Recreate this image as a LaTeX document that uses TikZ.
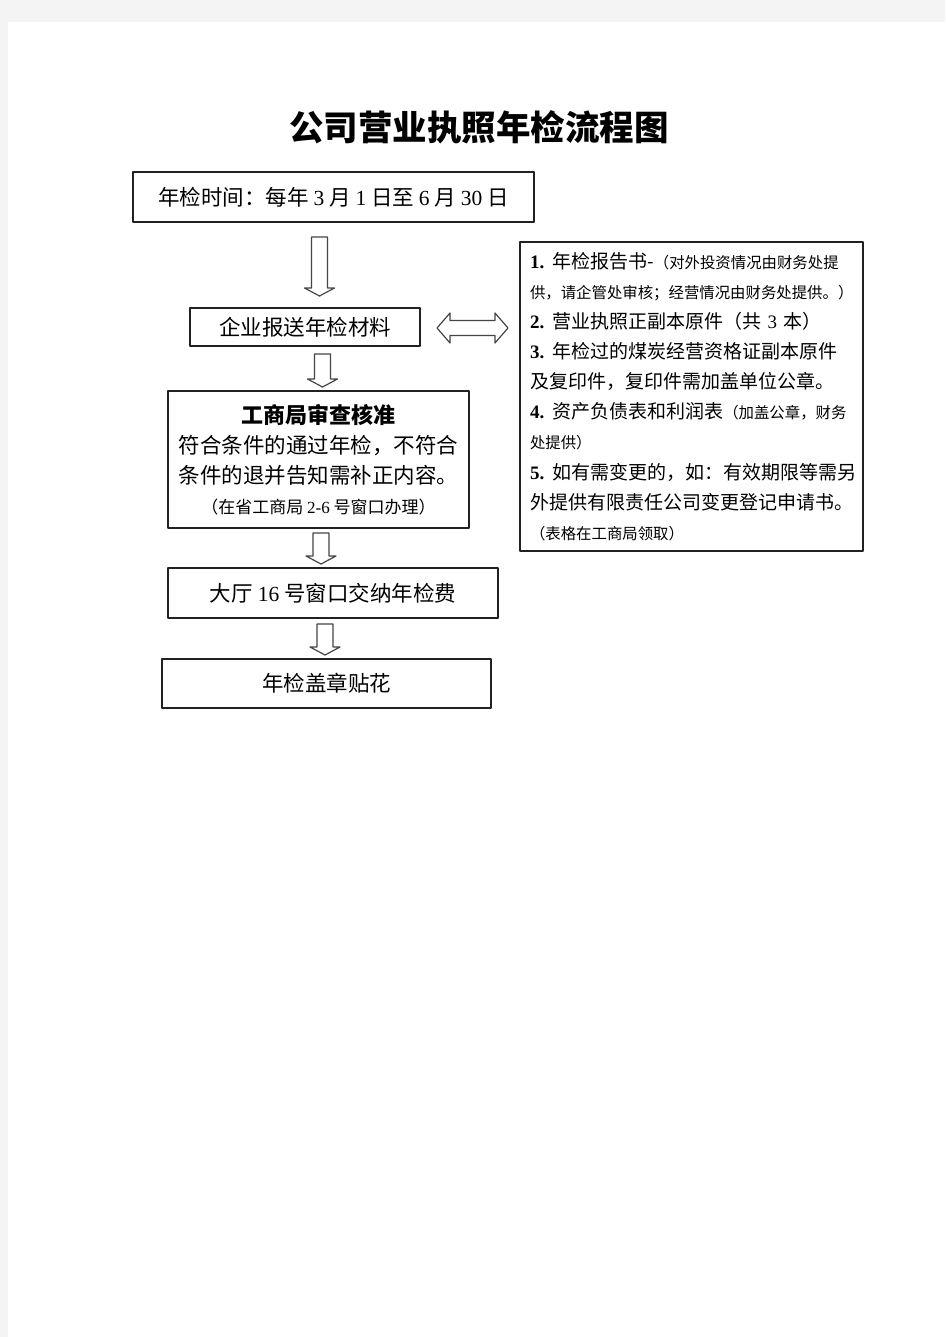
\documentclass[tikz,border=0pt]{standalone}
\usepackage{fontspec}
\setmainfont{Noto Sans CJK SC}
\newfontfamily\tnr{Liberation Serif}
\usetikzlibrary{calc}
\definecolor{wwwwww}{rgb}{0.957,0.957,0.957}
\definecolor{qqqqqq}{rgb}{0.13,0.13,0.13}
\definecolor{sqsqsq}{rgb}{0.27,0.27,0.27}
\newcommand{\notesize}{\fontsize{15.4}{30.1}\selectfont}
% hollow block arrows, from one named point to another
\newcommand{\blockdown}[2]{%
\draw[blockarrow] ($(#1)+(-8,0)$) -- ($(#1)+(8,0)$) -- ($(#2)+(8,-8)$) -- ($(#2)+(15,-8)$) -- (#2) -- ($(#2)+(-15,-8)$) -- ($(#2)+(-8,-8)$) -- cycle;}
\newcommand{\blockboth}[2]{%
\draw[blockarrow] (#1) -- ($(#1)+(13,-15)$) -- ($(#1)+(13,-7.5)$) -- ($(#2)+(-13,-7.5)$) -- ($(#2)+(-13,-15)$) -- (#2) -- ($(#2)+(-13,15)$) -- ($(#2)+(-13,7.5)$) -- ($(#1)+(13,7.5)$) -- ($(#1)+(13,15)$) -- cycle;}
\tikzset{
flowbox/.style={draw=qqqqqq,line width=1.2pt,inner sep=0pt,font=\fontsize{21.5}{30}\selectfont},
blockarrow/.style={draw=sqsqsq,line width=1.2pt,fill=white}
}
\begin{document}
\begin{tikzpicture}[line cap=round,line join=round,x=1pt,y=-1pt]
\useasboundingbox (0,0) rectangle (945,1337);
\fill[wwwwww] (0,0) rectangle (945,1337);
\fill[white] (8,22) rectangle (945,1337);
\node (title) at (479,127) {\fontsize{34.5}{40}\selectfont\bfseries 公司营业执照年检流程图};
\node[flowbox,minimum width=401pt,minimum height=50pt] (time) at (333.5,197) {年检时间：每年 {\tnr 3} 月 {\tnr 1} 日至 {\tnr 6} 月 {\tnr 30} 日};
\node[flowbox,minimum width=230pt,minimum height=38pt] (submit) at (305,327) {企业报送年检材料};
\node[flowbox,minimum width=301pt,minimum height=137pt,align=center] (check) at (318.5,459.5) {{\fontsize{22}{30}\selectfont\bfseries 工商局审查核准}\\
符合条件的通过年检，不符合\\
条件的退并告知需补正内容。\\
{\fontsize{17}{30}\selectfont （在省工商局 {\tnr 2-6} 号窗口办理）}};
\node[flowbox,minimum width=330pt,minimum height=50pt] (fee) at (333,593) {大厅 {\tnr 16} 号窗口交纳年检费};
\node[flowbox,minimum width=329pt,minimum height=49pt] (stamp) at (326.5,683.5) {年检盖章贴花};
\node[flowbox,font=\fontsize{19}{30.1}\selectfont,minimum height=309pt,text width=323pt,inner xsep=10pt,align=left] (need) at (691.5,396.5) {\textbf{\tnr 1.}\hspace{8pt}年检报告书-{\notesize （对外投资情况由财务处提}\\
{\notesize 供，请企管处审核；经营情况由财务处提供。）}\\
\textbf{\tnr 2.}\hspace{8pt}营业执照正副本原件（共 {\tnr 3} 本）\\
\textbf{\tnr 3.}\hspace{8pt}年检过的煤炭经营资格证副本原件\\
及复印件，复印件需加盖单位公章。\\
\textbf{\tnr 4.}\hspace{8pt}资产负债表和利润表{\notesize （加盖公章，财务}\\
{\notesize 处提供）}\\
\textbf{\tnr 5.}\hspace{8pt}如有需变更的，如：有效期限等需另\\
外提供有限责任公司变更登记申请书。\\
{\notesize （表格在工商局领取）}};
% arrow ends
\coordinate (a1s) at (319.5,237);
\coordinate (a1e) at (319.5,296);
\coordinate (a2s) at (322.5,354);
\coordinate (a2e) at (322.5,387);
\coordinate (a3s) at (321,533);
\coordinate (a3e) at (321,564);
\coordinate (a4s) at (325,624);
\coordinate (a4e) at (325,655);
\coordinate (d1) at (437,328);
\coordinate (d2) at (508,328);
\blockdown{a1s}{a1e}
\blockdown{a2s}{a2e}
\blockdown{a3s}{a3e}
\blockdown{a4s}{a4e}
\blockboth{d1}{d2}
\end{tikzpicture}
\end{document}
